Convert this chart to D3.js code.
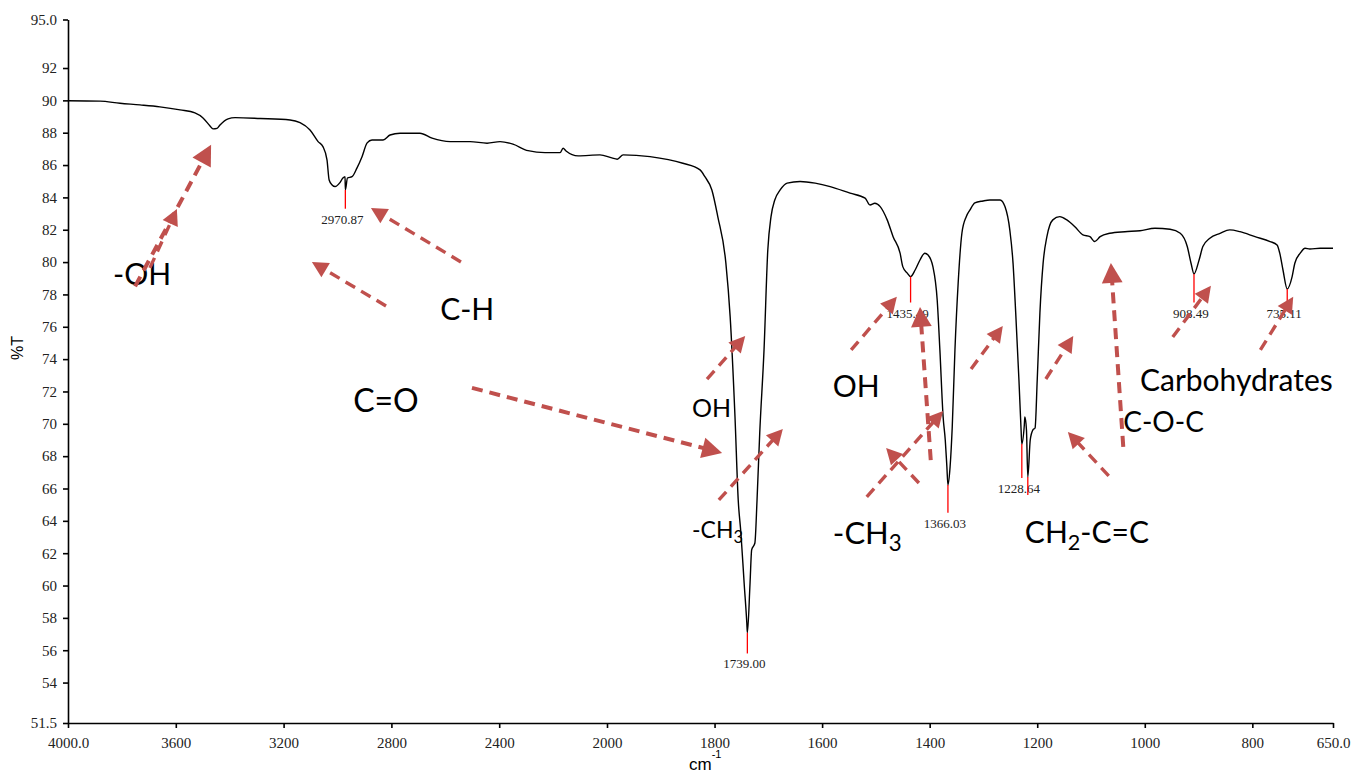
<!DOCTYPE html>
<html>
<head>
<meta charset="utf-8">
<script src="https://cdn.jsdelivr.net/npm/d3@7"></script>
<style>
  body { margin: 0; background: #fff; }
  svg { display: block; }
</style>
</head>
<body>
<svg width="1356" height="773"></svg>
<script>
// FTIR spectrum: [wavenumber cm-1, %T]
const spectrum = [
  [4000, 89.98], [3881, 89.95], [3807, 89.82], [3733, 89.72], [3659, 89.6], [3584, 89.41],
  [3529, 89.22], [3499, 88.91], [3473, 88.42], [3462, 88.24], [3447, 88.27], [3436, 88.48],
  [3406, 88.86], [3380, 88.93], [3287, 88.88], [3176, 88.79], [3139, 88.62], [3102, 88.17],
  [3072, 87.45], [3054, 87.14], [3039, 86.32], [3031, 85.08], [3020, 84.77], [3009, 84.67],
  [2991, 84.91], [2980, 85.2], [2972, 85.28], [2970.87, 84.46], [2963, 85.2], [2946, 85.28],
  [2928, 85.81], [2909, 86.52], [2890, 87.37], [2872, 87.55], [2831, 87.55], [2805, 87.86],
  [2768, 87.97], [2694, 87.97], [2649, 87.66], [2582, 87.45], [2508, 87.45], [2445, 87.35],
  [2397, 87.45], [2349, 87.29], [2293, 86.89], [2230, 86.77], [2174, 86.77], [2163, 87.04],
  [2152, 86.87], [2107, 86.57], [2026, 86.63], [1991, 86.44], [1981, 86.36], [1970, 86.63],
  [1920, 86.52], [1859, 86.11], [1827, 85.7], [1818, 85.28], [1805, 84.46], [1794, 82.81],
  [1779, 79.95], [1771, 76.63], [1762, 70.44], [1756, 65.29], [1751, 63.25], [1745, 60.16],
  [1740, 57.68], [1739, 57.08], [1734, 60.16], [1731, 62.2], [1725, 62.63], [1721, 65.29],
  [1716, 69.43], [1708, 74.57], [1701, 80.75], [1695, 82.81], [1688, 83.84], [1678, 84.46],
  [1665, 84.88], [1641, 84.98], [1613, 84.88], [1585, 84.67], [1548, 84.26], [1520, 83.95],
  [1511, 83.53], [1502, 83.64], [1492, 83.43], [1479, 82.61], [1468, 81.57], [1455, 80.55],
  [1450, 79.72], [1442, 79.33], [1435.49, 79.1], [1427, 79.51], [1418, 80.13], [1409, 80.55],
  [1403, 80.44], [1394, 79.72], [1386, 77.66], [1381, 74.57], [1375, 70.44], [1371, 69.0],
  [1368, 67.35], [1366.03, 66.22], [1362, 67.35], [1358, 69.82], [1353, 74.57], [1347, 78.71],
  [1340, 81.8], [1332, 82.81], [1325, 83.23], [1316, 83.66], [1301, 83.78], [1288, 83.84],
  [1269, 83.84], [1260, 83.43], [1251, 81.99], [1245, 79.95], [1240, 76.86], [1234, 72.71],
  [1230, 69.62], [1228.64, 68.75], [1224, 69.93], [1223, 70.42], [1220, 69.62], [1217.5, 66.71],
  [1213, 69.0], [1208, 69.62], [1204, 69.74], [1200, 72.71], [1195, 76.86], [1189, 79.95],
  [1182, 81.57], [1171, 82.61], [1158, 82.81], [1145, 82.61], [1130, 82.19], [1115, 81.68],
  [1102, 81.57], [1093, 81.27], [1083, 81.57], [1065, 81.78], [1037, 81.88], [1009, 81.94],
  [981, 82.09], [953, 82.03], [934, 81.78], [921, 80.96], [914, 79.93], [908.49, 79.27],
  [899, 80.13], [892, 80.96], [879, 81.48], [860, 81.78], [842, 81.99], [823, 81.88],
  [795, 81.57], [767, 81.27], [754, 81.06], [749, 80.55], [743, 79.51], [735.11, 78.34],
  [726, 79.1], [721, 79.93], [711, 80.55], [702, 80.86], [693, 80.81], [674, 80.86], [650, 80.86]
]

// picked peaks and the %T where each marker ends
const peakWavenumbers = [2970.87, 1739.00, 1435.49, 1366.03, 1228.64, 1217.5, 908.49, 735.11]
const peakLabels = ['2970.87', '1739.00', '1435.49', '1366.03', '1228.64', '', '908.49', '735.11']
const peakMarkerEnd = [83.3, 55.8, 77.5, 64.5, 66.65, 65.6, 77.5, 77.5]

const xTicks = [4000, 3600, 3200, 2800, 2400, 2000, 1800, 1600, 1400, 1200, 1000, 800, 650]
const yTicks = [95, 92, 90, 88, 86, 84, 82, 80, 78, 76, 74, 72, 70, 68, 66, 64, 62, 60, 58, 56, 54, 51.5]

// annotation arrows: [from wn, from %T, to wn, to %T]
const arrows = [
  [3751, 78.5, 3469, 87.25], [3696, 79.64, 3596, 83.29],
  [2542, 80.01, 2876, 83.35], [2820, 77.29, 3095, 80.01],
  [2501, 72.22, 1786, 68.2],
  [1814, 72.77, 1743, 75.43], [1792, 65.29, 1673, 69.68],
  [1546, 74.57, 1461, 77.85], [1398, 67.76, 1418, 77.23],
  [1517, 65.48, 1375, 70.79], [1420, 66.34, 1481, 68.51],
  [1323, 73.39, 1264, 76.05], [1184, 72.77, 1133, 75.43], [1067, 66.78, 1143, 69.5],
  [1040, 68.57, 1063, 79.95],
  [948, 75.37, 877, 78.53], [785, 74.57, 724, 77.85]
]

// annotation texts: [parts, wn, %T]  (parts: plain text or {sub})
const notes = [
  [['-OH'], 3833, 78.59],
  [['C-H'], 2619, 76.42],
  [['C=O'], 2942, 70.73],
  [['OH'], 1842, 70.42],
  [['OH'], 1580, 71.66],
  [['-CH', { sub: '3' }], 1842, 62.94],
  [['-CH', { sub: '3' }], 1580, 62.57],
  [['CH', { sub: '2' }, '-C=C'], 1223, 62.63],
  [['C-O-C'], 1040, 69.5],
  [['Carbohydrates'], 1009, 72.03]
]
const noteSizes = [30, 30, 32, 25, 30, 23, 31, 30, 28, 30]

const svg = d3.select('svg')
const x = d3.scaleLinear().domain([4000, 2000, 650]).range([68, 607, 1333])
const y = d3.scaleLinear().domain([51.5, 95]).range([723, 19.5])
const red = '#c0504d'
const serif = '"Liberation Serif", "Times New Roman", serif'
const sans = '"Liberation Sans", Arial, sans-serif'

// axes
const fmtX = d => (d === 4000 || d === 650) ? d.toFixed(1) : String(d)
const fmtY = d => (d === 95 || d === 51.5) ? d.toFixed(1) : String(d)

const xAxis = svg.append('g')
  .attr('transform', `translate(0,${ y(51.5) })`)
  .call(d3.axisBottom(x).tickValues(xTicks).tickFormat(fmtX).tickSize(5).tickSizeOuter(0).tickPadding(9))
const yAxis = svg.append('g')
  .attr('transform', `translate(${ x(4000) },0)`)
  .call(d3.axisLeft(y).tickValues(yTicks).tickFormat(fmtY).tickSize(5).tickSizeOuter(0).tickPadding(6))

for (const ax of [xAxis, yAxis]) {
  ax.selectAll('.domain, .tick line').attr('stroke', '#000').attr('stroke-width', 1.6)
  ax.selectAll('text').attr('font-family', serif).attr('font-size', 15).attr('fill', '#222')
}

svg.append('text')
  .attr('transform', 'translate(23,348) rotate(-90)')
  .attr('text-anchor', 'middle')
  .attr('font-family', sans).attr('font-size', 16)
  .text('%T')

const unit = svg.append('text')
  .attr('x', 689).attr('y', 770)
  .attr('font-family', sans).attr('font-size', 17)
unit.append('tspan').text('cm')
unit.append('tspan').attr('dy', -12).attr('font-size', 11).text('-1')

// spectrum line
const line = d3.line().x(d => x(d[0])).y(d => y(d[1])).curve(d3.curveMonotoneX)
svg.append('path')
  .datum(spectrum)
  .attr('d', line)
  .attr('fill', 'none')
  .attr('stroke', '#000')
  .attr('stroke-width', 1.4)

// peak markers
const tAt = wn => spectrum.find(d => d[0] === wn)[1]
const peaks = svg.append('g')
peakWavenumbers.forEach((wn, i) => {
  peaks.append('line')
    .attr('x1', x(wn)).attr('x2', x(wn))
    .attr('y1', y(tAt(wn))).attr('y2', y(peakMarkerEnd[i]))
    .attr('stroke', '#ff0000').attr('stroke-width', 1.3)
  if (peakLabels[i]) {
    peaks.append('text')
      .attr('x', x(wn) - 3).attr('y', y(peakMarkerEnd[i]) + 15)
      .attr('text-anchor', 'middle')
      .attr('font-family', serif).attr('font-size', 13).attr('fill', '#222')
      .text(peakLabels[i])
  }
})

// annotation texts
const notesG = svg.append('g')
notes.forEach(([parts, wn, t], i) => {
  const fs = noteSizes[i]
  const txt = notesG.append('text')
    .attr('x', x(wn)).attr('y', y(t))
    .attr('font-family', 'Lato, "Open Sans", sans-serif')
    .attr('font-size', fs).attr('fill', '#000')
  let shift = 0
  parts.forEach(p => {
    if (typeof p === 'string') {
      txt.append('tspan').attr('dy', -shift).text(p)
      shift = 0
    } else {
      shift = fs * 0.22
      txt.append('tspan').attr('dy', shift).attr('font-size', fs * 0.72).text(p.sub)
    }
  })
})

// dashed arrows
const arrowG = svg.append('g')
arrows.forEach(([w0, t0, w1, t1]) => {
  const x0 = x(w0), y0 = y(t0), x1 = x(w1), y1 = y(t1)
  const len = Math.hypot(x1 - x0, y1 - y0)
  const ux = (x1 - x0) / len, uy = (y1 - y0) / len
  const L = len > 140 ? 20 : 16
  const W = L * 0.52
  const bx = x1 - ux * L, by = y1 - uy * L
  arrowG.append('line')
    .attr('x1', x0).attr('y1', y0)
    .attr('x2', bx + ux * 2).attr('y2', by + uy * 2)
    .attr('stroke', red)
    .attr('stroke-width', len > 140 ? 4 : 3.4)
    .attr('stroke-dasharray', '11,7')
  arrowG.append('path')
    .attr('d', `M${ x1 },${ y1 }L${ bx - uy * W },${ by + ux * W }L${ bx + uy * W },${ by - ux * W }Z`)
    .attr('fill', red)
})
</script>
</body>
</html>
